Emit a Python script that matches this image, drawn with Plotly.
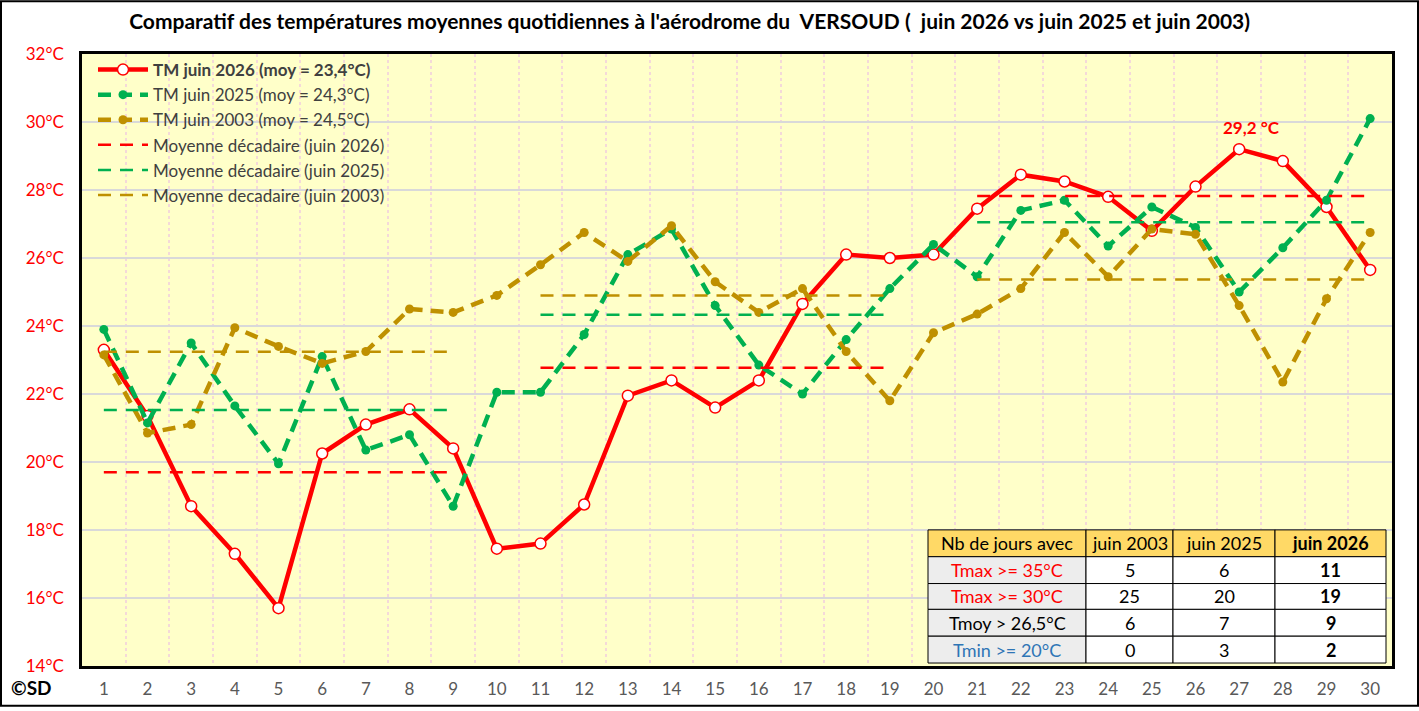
import plotly.graph_objects as go

days = list(range(1, 31))
tm_2026 = [23.3, 21.35, 18.7, 17.3, 15.7, 20.25, 21.1, 21.55, 20.4, 17.45,
           17.6, 18.75, 21.95, 22.4, 21.6, 22.4, 24.65, 26.1, 26.0, 26.1,
           27.45, 28.45, 28.25, 27.8, 26.8, 28.1, 29.2, 28.85, 27.5, 25.65]
tm_2025 = [23.9, 21.15, 23.5, 21.65, 19.95, 23.1, 20.35, 20.8, 18.7, 22.05,
           22.05, 23.75, 26.1, 26.85, 24.6, 22.85, 22.0, 23.6, 25.1, 26.4,
           25.45, 27.4, 27.7, 26.35, 27.5, 26.9, 25.0, 26.3, 27.7, 30.1]
tm_2003 = [23.15, 20.85, 21.1, 23.95, 23.4, 22.9, 23.25, 24.5, 24.4, 24.9,
           25.8, 26.75, 25.9, 26.95, 25.3, 24.4, 25.1, 23.25, 21.8, 23.8,
           24.35, 25.1, 26.75, 25.45, 26.85, 26.7, 24.6, 22.35, 24.8, 26.75]

# decade means (juin 2026, 2025, 2003)
dec_2026 = [19.7, 22.77, 27.82]
dec_2025 = [21.53, 24.33, 27.05]
dec_2003 = [23.24, 24.9, 25.37]
dec_starts = [1, 11, 21]
dec_ends = [9, 19, 30]

y_ticks = [14, 16, 18, 20, 22, 24, 26, 28, 30, 32]
y_tick_labels = [f"{v}°C" for v in y_ticks]

tbl_header = ["Nb de jours avec", "juin 2003", "juin 2025", "<b>juin 2026</b>"]
tbl_rows = ["Tmax >= 35°C", "Tmax >= 30°C", "Tmoy > 26,5°C", "Tmin >= 20°C"]
tbl_2003 = [5, 25, 6, 0]
tbl_2025 = [6, 20, 7, 3]
tbl_2026 = [11, 19, 9, 2]

RED = "#FF0000"
GREEN = "#00B050"
GOLD = "#BF9000"
BLUE = "#2E75B6"
FONT = "Lato"

W, H = 1419, 711
ML, MR, MT, MB = 82, 27, 54, 41
PW, PH = W - ML - MR, H - MT - MB


def px_x(px):
    return (px - ML) / PW


def px_y(py):
    return (H - MB - py) / PH


fig = go.Figure()


def dec_xy(vals):
    xs, ys = [], []
    for s, e, v in zip(dec_starts, dec_ends, vals):
        xs += [s, e, None]
        ys += [v, v, None]
    return xs, ys


fig.add_trace(go.Scatter(
    x=days, y=tm_2026, mode="lines+markers",
    name="<b>TM juin 2026 (moy = 23,4°C)</b>",
    line=dict(color=RED, width=4.5),
    marker=dict(symbol="circle", size=11, color="white", line=dict(color=RED, width=1.5)),
))
fig.add_trace(go.Scatter(
    x=days, y=tm_2025, mode="lines+markers",
    name="TM juin 2025 (moy = 24,3°C)",
    line=dict(color=GREEN, width=4.5, dash="13px,8px"),
    marker=dict(symbol="circle", size=9, color=GREEN),
))
fig.add_trace(go.Scatter(
    x=days, y=tm_2003, mode="lines+markers",
    name="TM juin 2003 (moy = 24,5°C)",
    line=dict(color=GOLD, width=4.5, dash="13px,8px"),
    marker=dict(symbol="circle", size=9, color=GOLD),
))
for vals, col, nm in [
    (dec_2026, RED, "Moyenne décadaire (juin 2026)"),
    (dec_2025, GREEN, "Moyenne décadaire (juin 2025)"),
    (dec_2003, GOLD, "Moyenne decadaire (juin 2003)"),
]:
    xs, ys = dec_xy(vals)
    fig.add_trace(go.Scatter(
        x=xs, y=ys, mode="lines", name=nm,
        line=dict(color=col, width=2.5, dash="13px,9px"),
    ))

# ---- inset table drawn with shapes + annotations ----
col_edges = [928, 1086, 1173, 1275, 1386]
row_edges = [533, 560, 587, 613, 640, 667]
table_cols = [
    [tbl_header[0]] + tbl_rows,
    [tbl_header[1]] + [str(v) for v in tbl_2003],
    [tbl_header[2]] + [str(v) for v in tbl_2025],
    [tbl_header[3]] + [f"<b>{v}</b>" for v in tbl_2026],
]
row_label_colors = [RED, RED, "black", BLUE]
for ci in range(4):
    for ri in range(5):
        x0, x1 = px_x(col_edges[ci]), px_x(col_edges[ci + 1])
        y0, y1 = px_y(row_edges[ri + 1]), px_y(row_edges[ri])
        if ri == 0:
            fill = "#FFD966"
        elif ci == 0:
            fill = "#EDEDED"
        else:
            fill = "white"
        fig.add_shape(type="rect", xref="paper", yref="paper",
                      x0=x0, x1=x1, y0=y0, y1=y1, fillcolor=fill,
                      line=dict(color="black", width=1), layer="above")
        color = "black"
        if ci == 0 and ri > 0:
            color = row_label_colors[ri - 1]
        fig.add_annotation(xref="paper", yref="paper", x=(x0 + x1) / 2, y=(y0 + y1) / 2,
                           text=table_cols[ci][ri], showarrow=False,
                           xanchor="center", yanchor="middle",
                           font=dict(family=FONT, size=18, color=color))

fig.add_annotation(x=27, y=29.2, text="<b>29,2 °C</b>", showarrow=False,
                   yshift=22, xshift=12, font=dict(family=FONT, size=17, color=RED))
fig.add_annotation(xref="paper", yref="paper", x=px_x(9), y=px_y(692),
                   xanchor="left", yanchor="middle", text="<b>©SD</b>",
                   showarrow=False, font=dict(family=FONT, size=19, color="black"))

# figure border
fig.add_shape(type="rect", xref="paper", yref="paper",
              x0=px_x(1), x1=px_x(W - 1), y0=px_y(H - 1), y1=px_y(1),
              line=dict(color="black", width=2), layer="below")

fig.update_layout(
    width=W, height=H,
    margin=dict(l=ML, r=MR, t=MT, b=MB),
    paper_bgcolor="white", plot_bgcolor="#FFFFC9",
    font=dict(family=FONT, color="#404040"),
    title=dict(
        text="<b>Comparatif des températures moyennes quotidiennes à l'aérodrome du  VERSOUD (  juin 2026 vs juin 2025 et juin 2003)</b>",
        x=0.486, xanchor="center", y=0.969, yanchor="middle",
        font=dict(family=FONT, size=21, color="black"),
    ),
    legend=dict(
        x=px_x(93), y=px_y(52), xanchor="left", yanchor="top",
        bgcolor="rgba(0,0,0,0)", font=dict(family=FONT, size=17, color="#404040"),
        itemwidth=50,
    ),
    xaxis=dict(
        range=[0.5, 30.5], tickvals=days, ticktext=[str(d) for d in days],
        showgrid=False, zeroline=False,
        tickfont=dict(family=FONT, size=17, color="#595959"),
        showline=True, linecolor="black", linewidth=2.5, mirror=True,
        ticks="", ticklabelstandoff=6,
        minor=dict(tickvals=[d + 0.5 for d in days[:-1]], showgrid=True,
                   gridcolor="#F4D9D9", griddash="dot", gridwidth=1.5),
    ),
    yaxis=dict(
        range=[14, 32], tickvals=y_ticks, ticktext=y_tick_labels,
        showgrid=True, gridcolor="#D9D9D9", gridwidth=2, zeroline=False,
        tickfont=dict(family=FONT, size=17, color=RED),
        showline=True, linecolor="black", linewidth=2.5, mirror=True,
        ticks="", ticklabelstandoff=12,
    ),
    showlegend=True,
)

fig.write_html("out.html")
